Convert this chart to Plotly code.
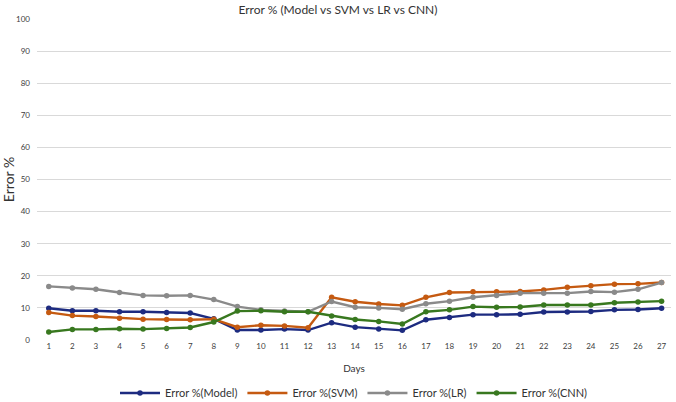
import plotly.graph_objects as go

days = list(range(1, 28))
err_model = [9.9, 9.1, 9.1, 8.8, 8.8, 8.6, 8.4, 6.6, 3.1, 3.1, 3.4, 3.1, 5.4, 4.0, 3.4, 3.0,
             6.3, 7.0, 7.9, 7.9, 8.0, 8.7, 8.7, 8.9, 9.4, 9.5, 9.9]
err_svm = [8.6, 7.6, 7.3, 6.8, 6.5, 6.4, 6.3, 6.5, 4.0, 4.6, 4.4, 3.8, 13.3, 11.9, 11.2, 10.8,
           13.3, 14.8, 15.0, 15.0, 15.1, 15.6, 16.4, 16.9, 17.4, 17.5, 17.9]
err_lr = [16.7, 16.2, 15.8, 14.8, 13.9, 13.8, 13.9, 12.6, 10.4, 9.4, 9.0, 8.8, 12.0, 10.2, 10.0, 9.6,
          11.3, 12.1, 13.3, 13.9, 14.6, 14.6, 14.6, 15.1, 14.9, 15.8, 17.9]
err_cnn = [2.5, 3.3, 3.3, 3.5, 3.4, 3.6, 3.9, 5.6, 9.0, 9.1, 8.8, 8.8, 7.5, 6.4, 5.8, 5.0,
           8.8, 9.4, 10.4, 10.2, 10.3, 10.9, 10.9, 10.9, 11.6, 11.8, 12.1]

series = [
    ("Error %(Model)", err_model, "#1d2b80"),
    ("Error %(SVM)", err_svm, "#c55a11"),
    ("Error %(LR)", err_lr, "#8a8a8a"),
    ("Error %(CNN)", err_cnn, "#38781f"),
]

font = "Lato, 'Open Sans', sans-serif"

fig = go.Figure()
for name, vals, color in series:
    fig.add_trace(go.Scatter(x=days, y=vals, name=name, mode="lines+markers",
                             line=dict(color=color, width=2.4),
                             marker=dict(color=color, size=5.5)))

fig.update_layout(
    width=676, height=402,
    margin=dict(l=37, r=5, t=19, b=62, autoexpand=False),
    paper_bgcolor="white", plot_bgcolor="white",
    font=dict(family=font, color="#404040"),
    title=dict(text="Error % (Model vs SVM vs LR vs CNN)", x=0.5, xanchor="center",
               y=0.975, yanchor="middle", font=dict(size=12, color="#333333")),
    legend=dict(orientation="h", x=0.5, xanchor="center", y=-0.12, yanchor="top",
                font=dict(size=11, color="#333333"), itemwidth=40, tracegroupgap=0),
    showlegend=True,
)
fig.update_xaxes(range=[0.5, 27.4], tickmode="array", tickvals=days, ticks="",
                 tickfont=dict(size=8, color="#404040"), showgrid=False, zeroline=False,
                 showline=False, automargin=False,
                 title=dict(text="Days", font=dict(size=10, color="#333333"), standoff=14))
fig.update_yaxes(range=[0, 100], dtick=10, tickfont=dict(size=8, color="#404040"),
                 showgrid=True, gridcolor="#d9d9d9", gridwidth=1, zeroline=False,
                 showline=False, ticks="", automargin=False, ticklabelstandoff=6,
                 title=dict(text="Error %", font=dict(size=14, color="#333333"), standoff=0))

# drop the default 8px page margin so the figure sits at the window's corner
fig.write_html("out.html", config={"displayModeBar": False},
               post_script="document.body.style.margin='0';")
